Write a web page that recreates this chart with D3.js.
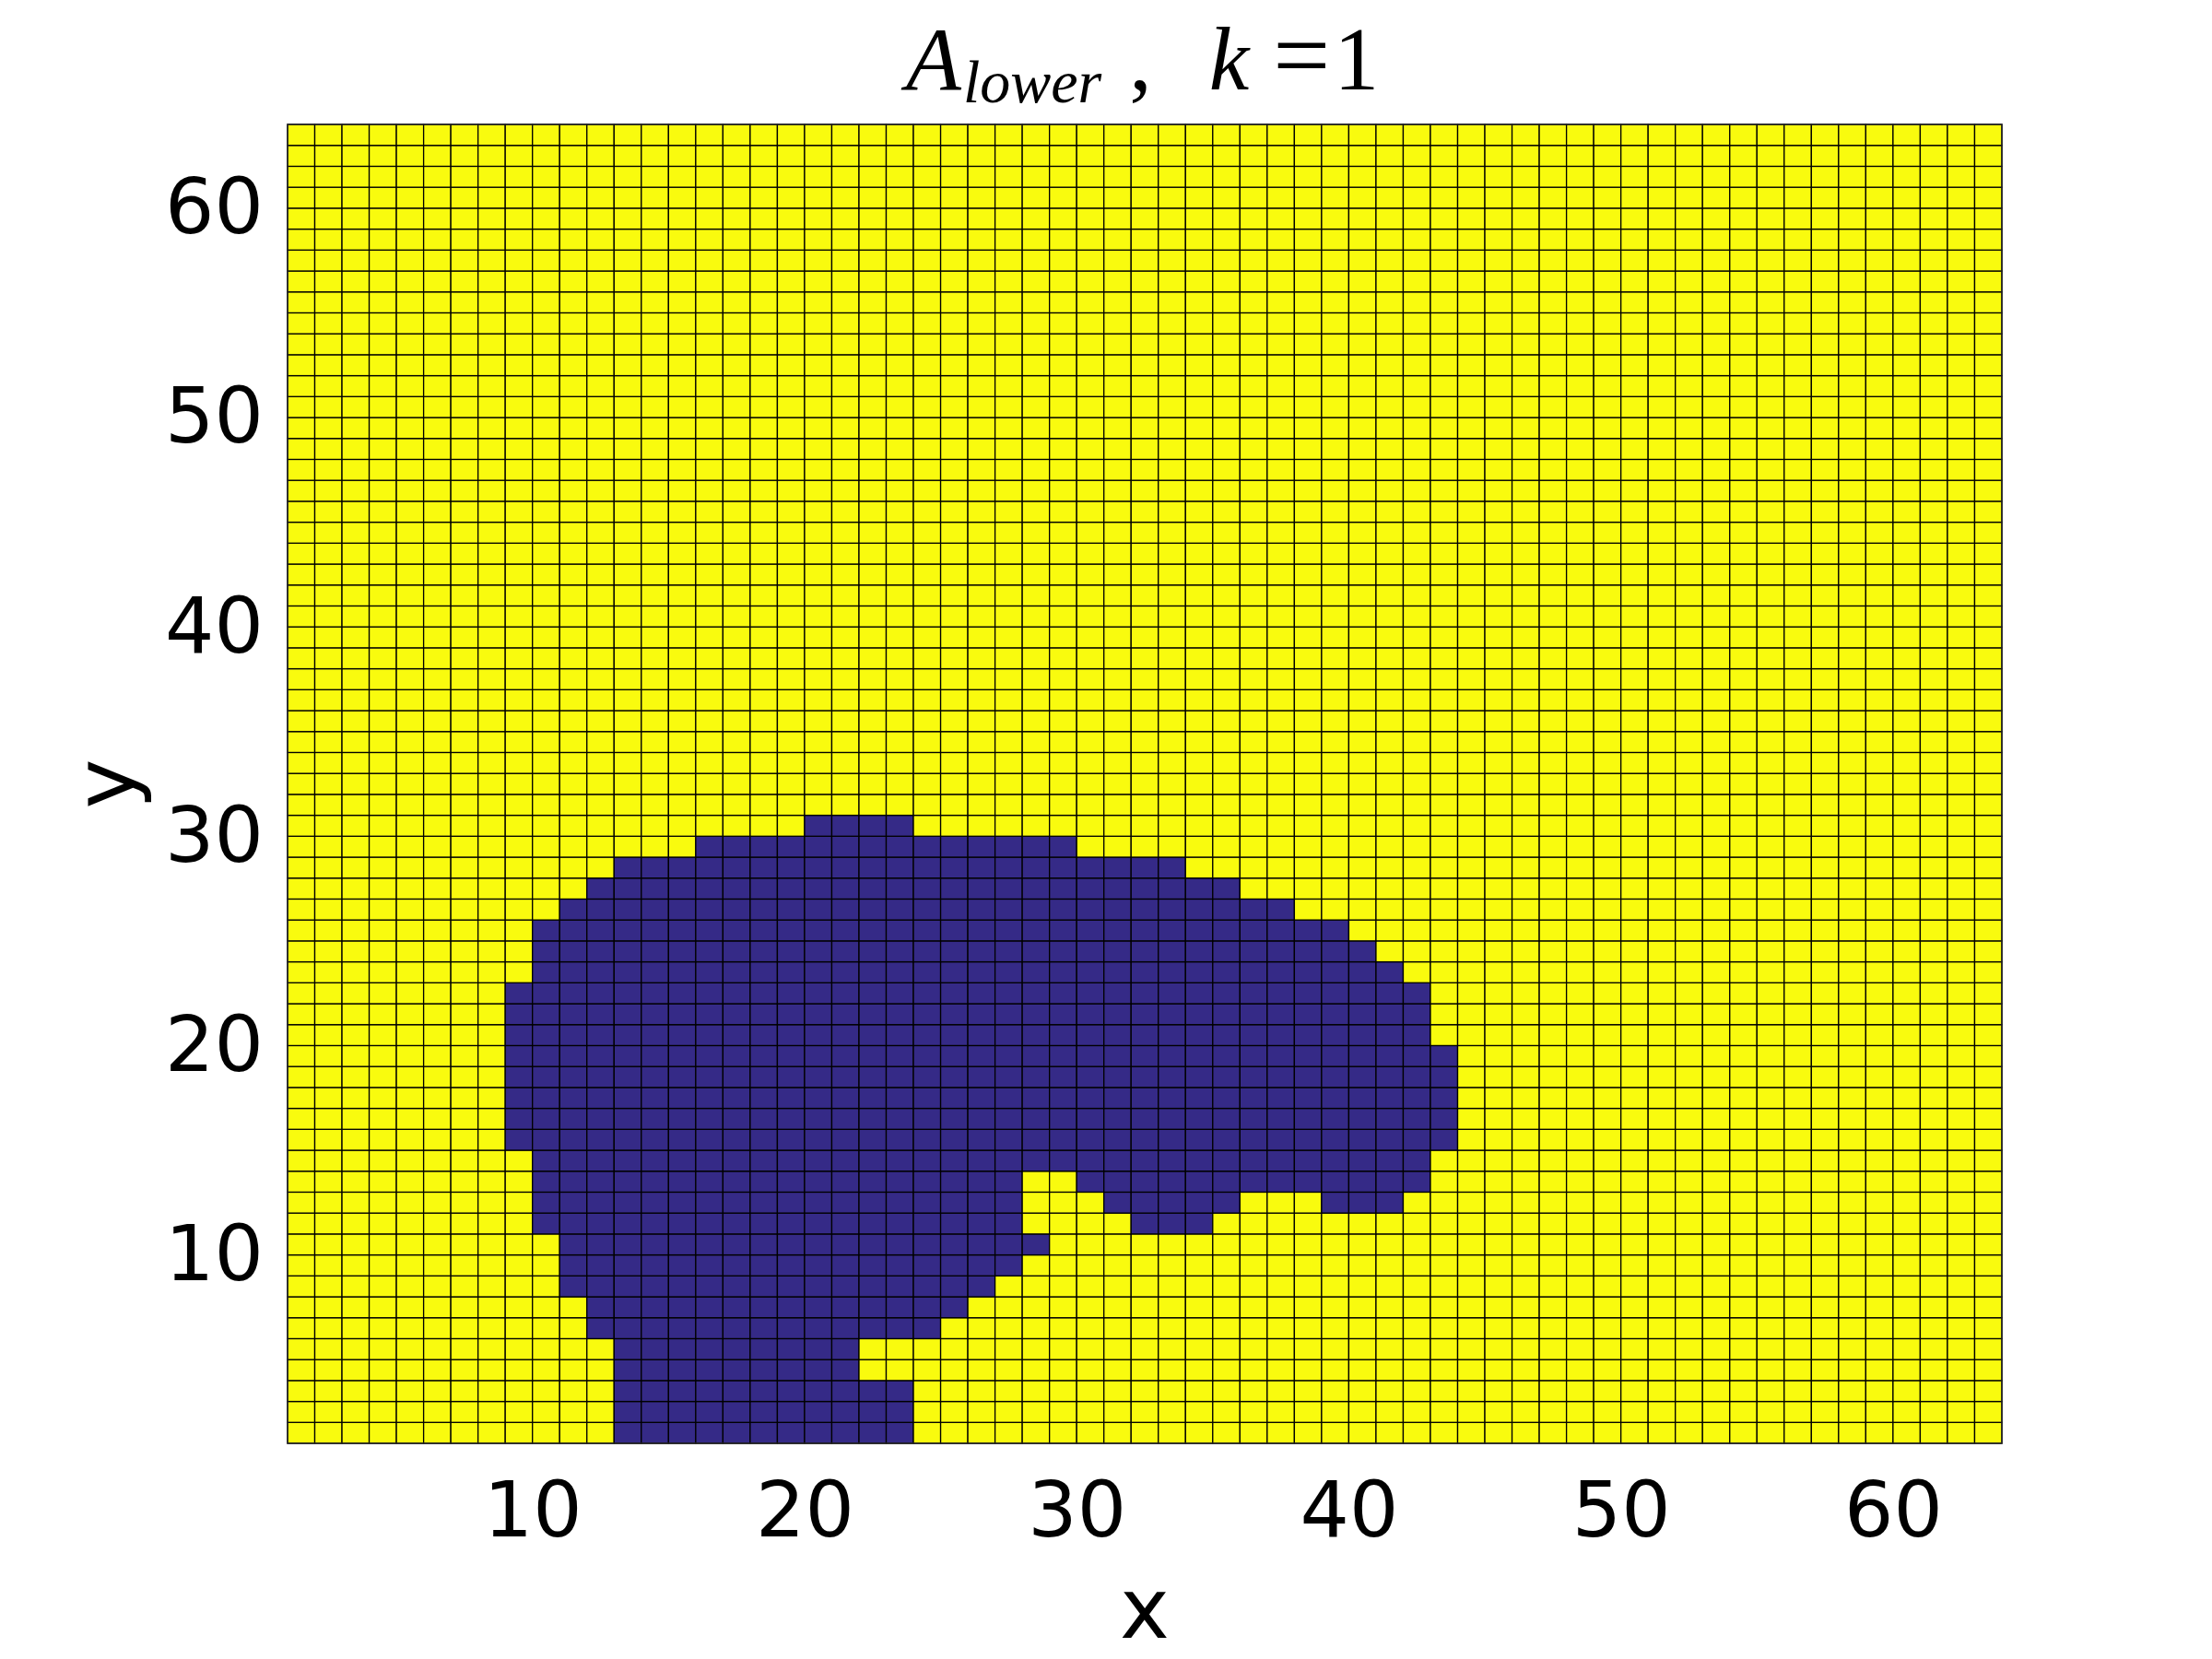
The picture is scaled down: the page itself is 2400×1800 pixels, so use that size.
<!DOCTYPE html>
<html>
<head>
<meta charset="utf-8">
<script src="https://cdn.jsdelivr.net/npm/d3@7"></script>
<style>
  html, body { margin: 0; padding: 0; background: #ffffff; }
  svg { display: block; }
</style>
</head>
<body>
<svg id="chart" width="2400" height="1800"></svg>
<script>
// ---- data ----
const gridNodes = d3.range(1, 65);          // grid node coordinates 1..64 (63 cells each way)
const xTicks = [10, 20, 30, 40, 50, 60];
const yTicks = [10, 20, 30, 40, 50, 60];
const lowValue = 0, highValue = 1;
// dark (A_lower = 0) cells: [row y, first x cell, last x cell]
const darkRuns = [
  [1, 13, 23], [2, 13, 23], [3, 13, 23], [4, 13, 21], [5, 13, 21],
  [6, 12, 24], [7, 12, 25], [8, 11, 26], [9, 11, 27], [10, 11, 28],
  [11, 10, 27], [11, 32, 34],
  [12, 10, 27], [12, 31, 35], [12, 39, 41],
  [13, 10, 27], [13, 30, 42],
  [14, 10, 42], [15, 9, 43], [16, 9, 43], [17, 9, 43], [18, 9, 43], [19, 9, 43],
  [20, 9, 42], [21, 9, 42], [22, 9, 42], [23, 10, 41], [24, 10, 40],
  [25, 10, 39], [26, 11, 37], [27, 12, 35], [28, 13, 33], [29, 16, 29], [30, 20, 23]
];
const colorLow = "#352A87", colorHigh = "#F9FB0E";

// ---- build cell table ----
const cells = [];
for (let j = 0; j < gridNodes.length - 1; j++) {
  for (let i = 0; i < gridNodes.length - 1; i++) {
    const xv = gridNodes[i], yv = gridNodes[j];
    const isLow = darkRuns.some(r => r[0] === yv && xv >= r[1] && xv <= r[2]);
    cells.push({x0: xv, x1: gridNodes[i + 1], y0: yv, y1: gridNodes[j + 1], v: isLow ? lowValue : highValue});
  }
}

// ---- layout ----
const svg = d3.select("#chart");
const L = 312, R = 2172, T = 135, B = 1566;
const x = d3.scaleLinear().domain([1, 64]).range([L, R]);
const y = d3.scaleLinear().domain([1, 64]).range([B, T]);
const color = d3.scaleOrdinal().domain([lowValue, highValue]).range([colorLow, colorHigh]);

svg.append("rect").attr("width", 2400).attr("height", 1800).attr("fill", "#ffffff");

svg.append("g").selectAll("rect").data(cells).join("rect")
  .attr("x", d => x(d.x0))
  .attr("y", d => y(d.y1))
  .attr("width", d => x(d.x1) - x(d.x0))
  .attr("height", d => y(d.y0) - y(d.y1))
  .attr("fill", d => color(d.v))
  .attr("stroke", "#000000")
  .attr("stroke-width", 1.3);

// box
svg.append("rect")
  .attr("x", L).attr("y", T).attr("width", R - L).attr("height", B - T)
  .attr("fill", "none").attr("stroke", "#262626").attr("stroke-width", 1.5);

// axes
const font = "'DejaVu Sans', sans-serif";
const gx = svg.append("g").attr("transform", `translate(0,${B})`)
  .call(d3.axisBottom(x).tickValues(xTicks).tickSize(0).tickPadding(41).tickFormat(d3.format("d")));
const gy = svg.append("g").attr("transform", `translate(${L},0)`)
  .call(d3.axisLeft(y).tickValues(yTicks).tickSize(0).tickPadding(26).tickFormat(d3.format("d")));
[gx, gy].forEach(g => {
  g.select(".domain").remove();
  g.selectAll("text").attr("font-family", font).attr("font-size", 84).attr("fill", "#000000");
});

// axis labels
svg.append("text")
  .attr("x", (L + R) / 2).attr("y", 1777)
  .attr("text-anchor", "middle")
  .attr("font-family", font).attr("font-size", 91).attr("fill", "#000000")
  .text("x");
svg.append("text")
  .attr("transform", `translate(145,${(T + B) / 2}) rotate(-90)`)
  .attr("text-anchor", "middle")
  .attr("font-family", font).attr("font-size", 91).attr("fill", "#000000")
  .text("y");

// title  A_{lower} ,  k =1
const serif = "'Liberation Serif', 'Times New Roman', serif";
const title = svg.append("text")
  .attr("x", 983).attr("y", 97)
  .attr("font-family", serif).attr("font-size", 98).attr("fill", "#000000");
title.append("tspan").attr("font-style", "italic").text("A");
title.append("tspan").attr("font-style", "italic").attr("font-size", 66).attr("dy", 14).attr("dx", 2).text("lower");
title.append("tspan").attr("dy", -14).attr("dx", 30).text(",");
title.append("tspan").attr("font-style", "italic").attr("dx", 62).text("k");
title.append("tspan").attr("dx", 26).attr("font-size", 110).text("=");
title.append("tspan").attr("dx", 4).text("1");
</script>
</body>
</html>
